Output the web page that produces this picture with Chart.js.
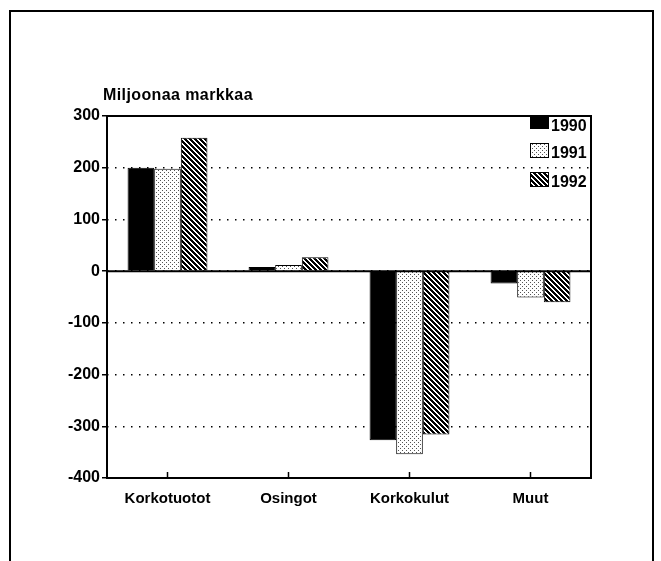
<!DOCTYPE html>
<html>
<head>
<meta charset="utf-8">
<script src="https://cdn.jsdelivr.net/npm/chart.js@4/dist/chart.umd.min.js"></script>
<style>
  html, body { margin: 0; padding: 0; background: #fff; }
  #wrap { position: relative; width: 661px; height: 561px; overflow: hidden; }
  #frame { position: absolute; left: 9px; top: 10px; width: 641px; height: 600px;
           border: 2px solid #000; border-bottom: none; }
  canvas { position: absolute; left: 0; top: 0; }
</style>
</head>
<body>
<div id="wrap">
  <div id="frame"></div>
  <canvas id="chart" width="661" height="561"></canvas>
</div>
<script>
const categories = ['Korkotuotot', 'Osingot', 'Korkokulut', 'Muut'];
const years = ['1990', '1991', '1992'];
const values1990 = [200, 8, -327, -24];
const values1991 = [198, 12, -354, -51];
const values1992 = [258, 27, -316, -60];
const yTicks = [300, 200, 100, 0, -100, -200, -300, -400];
const unitLabel = 'Miljoonaa markkaa';

const FONT = '"Liberation Sans", Arial, sans-serif';

function makePattern(kind) {
  const n = kind === 'dots' ? 4 : 5;
  const c = document.createElement('canvas');
  c.width = n; c.height = n;
  const g = c.getContext('2d');
  g.fillStyle = '#fff';
  g.fillRect(0, 0, n, n);
  if (kind === 'dots') {
    g.fillStyle = '#555';
    g.fillRect(0, 0, 1, 1);
    g.fillRect(2, 2, 1, 1);
  } else {
    g.fillStyle = '#000';
    for (let i = 0; i < n; i++) {
      g.fillRect(i, i, 1, 1);
      g.fillRect((i + 1) % n, i, 1, 1);
      g.fillRect((i + 2) % n, i, 1, 1);
    }
  }
  return g.createPattern(c, 'repeat');
}

const fills = ['#000', makePattern('dots'), makePattern('hatch')];

const framePlugin = {
  id: 'framePlugin',
  afterDatasetsDraw(chart) {
    const ctx = chart.ctx;
    const a = chart.chartArea;
    const y = chart.scales.y;
    const x = chart.scales.x;
    ctx.save();
    ctx.strokeStyle = '#000';
    // zero line
    ctx.lineWidth = 2;
    const y0 = y.getPixelForValue(0);
    ctx.beginPath();
    ctx.moveTo(a.left, y0);
    ctx.lineTo(a.right, y0);
    ctx.stroke();
    // plot box
    ctx.strokeRect(a.left, a.top, a.right - a.left, a.bottom - a.top);
    // category ticks pointing up
    ctx.lineWidth = 1.5;
    categories.forEach((c, i) => {
      const px = x.getPixelForValue(i);
      ctx.beginPath();
      ctx.moveTo(px, a.bottom);
      ctx.lineTo(px, a.bottom - 6);
      ctx.stroke();
    });
    ctx.restore();
  },
  afterDraw(chart) {
    const ctx = chart.ctx;
    const a = chart.chartArea;
    ctx.save();
    ctx.fillStyle = '#000';
    ctx.textBaseline = 'alphabetic';
    ctx.textAlign = 'left';
    ctx.letterSpacing = '0.4px';
    ctx.font = 'bold 16px ' + FONT;
    ctx.fillText(unitLabel, a.left - 4, 100);
    ctx.letterSpacing = '0px';
    // legend
    ctx.font = 'bold 16px ' + FONT;
    const rows = [{ top: a.top, h: 13, base: 131 }, { top: 143, h: 15, base: 158 }, { top: 172, h: 15, base: 187 }];
    years.forEach((yr, i) => {
      const r = rows[i];
      ctx.fillStyle = fills[i];
      ctx.fillRect(530, r.top, 19, r.h);
      ctx.strokeStyle = '#000';
      ctx.lineWidth = 1;
      ctx.strokeRect(530.5, r.top + 0.5, 18, r.h - 1);
      ctx.fillStyle = '#000';
      ctx.fillText(yr, 551, r.base);
    });
    ctx.restore();
  }
};

new Chart(document.getElementById('chart'), {
  type: 'bar',
  data: {
    labels: categories,
    datasets: [
      { label: years[0], data: values1990, backgroundColor: fills[0], borderColor: '#000', borderWidth: 1 },
      { label: years[1], data: values1991, backgroundColor: fills[1], borderColor: '#000', borderWidth: 1 },
      { label: years[2], data: values1992, backgroundColor: fills[2], borderColor: '#000', borderWidth: 1 }
    ]
  },
  plugins: [framePlugin],
  options: {
    responsive: false,
    animation: false,
    devicePixelRatio: 1,
    layout: { padding: { left: 0, top: 116, right: 70, bottom: 43 } },
    datasets: { bar: { categoryPercentage: 0.66, barPercentage: 1 } },
    plugins: { legend: { display: false }, tooltip: { enabled: false } },
    scales: {
      x: {
        afterFit(s) { s.height = 40; },
        grid: { display: false, drawTicks: false },
        border: { display: false },
        ticks: { color: '#000', padding: 12, font: { family: FONT, size: 15, weight: 'bold' } }
      },
      y: {
        min: -400,
        max: 300,
        afterFit(s) { s.width = 107; },
        afterBuildTicks(s) { s.ticks = yTicks.map(v => ({ value: v })); },
        grid: { color: '#000', lineWidth: 1.5, tickLength: 5, tickColor: '#000', tickWidth: 1.5, tickBorderDash: [] },
        border: { display: false, dash: [1.5, 6.5] },
        ticks: { color: '#000', padding: 2, font: { family: FONT, size: 16, weight: 'bold' } }
      }
    }
  }
});
</script>
</body>
</html>
